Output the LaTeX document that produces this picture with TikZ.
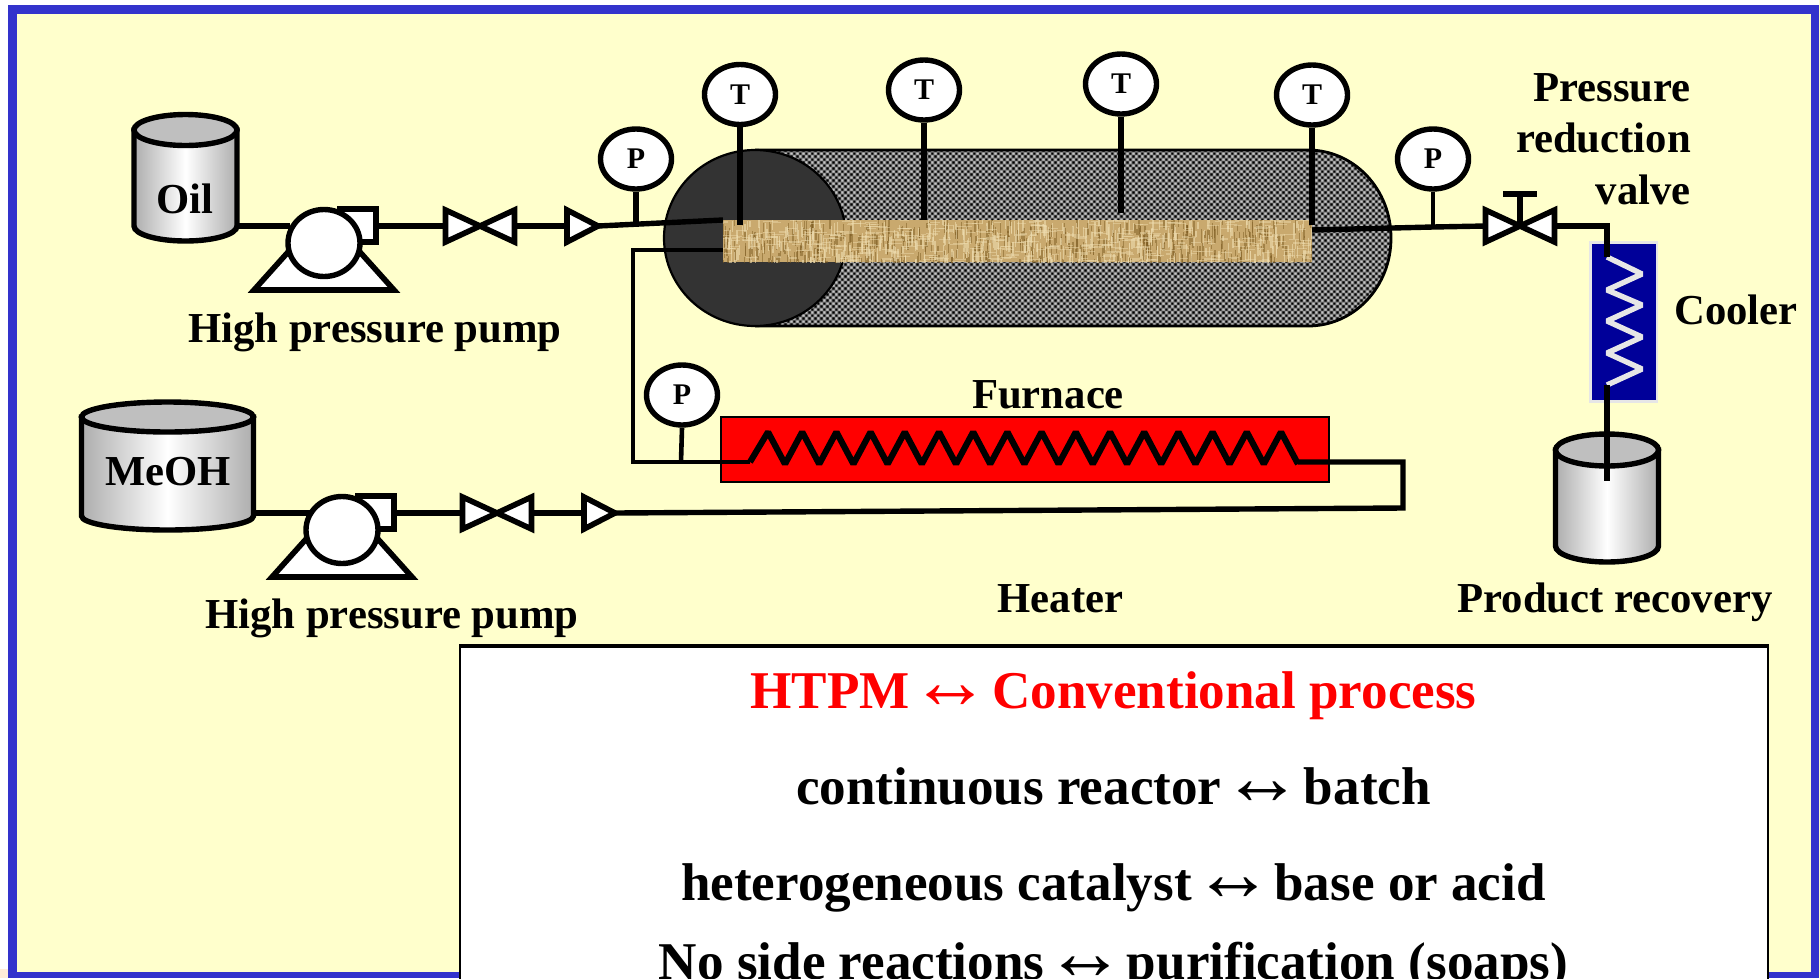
\documentclass[tikz,border=0pt]{standalone}
\usepackage{fontspec}
\setmainfont{Liberation Serif}
\usetikzlibrary{shapes.geometric,patterns}
\definecolor{frameblue}{HTML}{3333CC}
\definecolor{paleyellow}{HTML}{FFFFCC}
\definecolor{coolblue}{HTML}{000099}
\definecolor{coolpale}{HTML}{E6E6E6}
\definecolor{darkshell}{HTML}{333333}
\definecolor{tanbase}{HTML}{C9A96E}
\definecolor{tandark}{HTML}{7D5C22}
\definecolor{tanlight}{HTML}{EFDDB0}
\pgfdeclarepatterninherentlycolored{shellcheck}{\pgfqpoint{0pt}{0pt}}{\pgfqpoint{6.4pt}{6.4pt}}{\pgfqpoint{6.4pt}{6.4pt}}{%
  \pgfsetfillcolor{black!55}\pgfpathrectangle{\pgfqpoint{0pt}{0pt}}{\pgfqpoint{6.4pt}{6.4pt}}\pgfusepath{fill}%
  \pgfsetfillcolor{black}%
  \pgfpathrectangle{\pgfqpoint{0.4pt}{0.4pt}}{\pgfqpoint{2.4pt}{2.4pt}}%
  \pgfpathrectangle{\pgfqpoint{3.6pt}{3.6pt}}{\pgfqpoint{2.4pt}{2.4pt}}\pgfusepath{fill}%
  \pgfsetfillcolor{black!22}%
  \pgfpathrectangle{\pgfqpoint{3.6pt}{0.4pt}}{\pgfqpoint{2.4pt}{2.4pt}}%
  \pgfpathrectangle{\pgfqpoint{0.4pt}{3.6pt}}{\pgfqpoint{2.4pt}{2.4pt}}\pgfusepath{fill}%
}
\newcommand{\twoway}{\hspace{-12pt}{\fontsize{80}{60}\selectfont ↔}\hspace{-12pt}}
\tikzset{
  pipe/.style={draw=black,line width=5.4pt,line join=miter},
  thinstem/.style={draw=black,line width=4.6pt},
  symbolline/.style={draw=black,fill=white,line width=5.6pt,line join=miter},
  gauge/.style={ellipse,draw=black,fill=white,line width=5.4pt,inner sep=0pt,minimum width=71pt,minimum height=60pt,font=\fontsize{30}{32}\selectfont\bfseries},
  lbl/.style={inner sep=0pt,font=\fontsize{42.7}{50}\selectfont\bfseries},
  big/.style={inner sep=0pt,anchor=base,font=\fontsize{53.1}{60}\selectfont\bfseries},
  tankbody/.style={draw=black,line width=5.4pt,left color=black!32,right color=black!32,middle color=white},
  tanktop/.style={draw=black,fill=black!25,line width=5.4pt},
}
% name, x1, x2, top cy, top ry, bottom cy, bottom ry
\newcommand{\tankdraw}[7]{%
  \pgfmathsetmacro{\tcx}{(#2+#3)/2}%
  \pgfmathsetmacro{\trx}{(#3-#2)/2}%
  \pgfmathsetmacro{\tkx}{.5523*\trx}%
  \pgfmathsetmacro{\tky}{.5523*#7}%
  \pgfmathsetmacro{\tbb}{#6+#7}%
  \path[tankbody] (#2,#4) -- (#2,#6)
    .. controls (#2,#6+\tky) and (\tcx-\tkx,\tbb) .. (\tcx,\tbb)
    .. controls (\tcx+\tkx,\tbb) and (#3,#6+\tky) .. (#3,#6) -- (#3,#4) -- cycle;
  \path[tanktop] (\tcx,#4) ellipse [x radius=\trx,y radius=#5];
  \coordinate (#1R) at (#3,#6);
}
% name; pipe level point x,y
\newcommand{\pumpdraw}[3]{%
  \begin{scope}[shift={(#2,#3)}]
    \path[symbolline] (1,-14) -- (-69,64) -- (71,64) -- cycle;
    \path[symbolline] (17,-17) rectangle (53,16);
    \coordinate (#1out) at (53,0);
    \node[ellipse,draw=black,fill=white,line width=5.4pt,inner sep=0pt,minimum width=72pt,minimum height=67pt] (#1) at (1,17) {};
  \end{scope}
}
\newcommand{\valvedraw}[3]{%
  \begin{scope}[shift={(#2,#3)}]
    \path[symbolline] (-34.5,-16) -- (-34.5,16) -- (34.5,-16) -- (34.5,16) -- cycle;
    \coordinate (#1L) at (-34.5,0);
    \coordinate (#1R) at (34.5,0);
    \coordinate (#1C) at (0,0);
  \end{scope}
}
\newcommand{\checkv}[3]{%
  \begin{scope}[shift={(#2,#3)}]
    \path[symbolline] (0,-16) -- (0,16) -- (31,0) -- cycle;
    \coordinate (#1L) at (0,0);
    \coordinate (#1R) at (31,0);
  \end{scope}
}
\begin{document}
\begin{tikzpicture}[x=1pt,y=-1pt]
\useasboundingbox (0,0) rectangle (1820,978);
\clip (0,0) rectangle (1820,978);
\fill[white] (0,0) rectangle (1820,978);
\fill[orange!15] (0,969) rectangle (8,978);
\fill[paleyellow] (1819,0) rectangle (1820,978);
\fill[frameblue] (8,5) rectangle (1819,978);
\fill[paleyellow] (17,14) rectangle (1811,972);

% reactor
\path[pattern=shellcheck] (755,150) -- (1308,150)
  .. controls (1354,150) and (1391,189) .. (1391,238)
  .. controls (1391,287) and (1354,326) .. (1308,326) -- (755,326) -- cycle;
\draw[black,line width=2.8pt] (755,150) -- (1308,150)
  .. controls (1354,150) and (1391,189) .. (1391,238)
  .. controls (1391,287) and (1354,326) .. (1308,326) -- (755,326);
\draw[black,fill=darkshell,line width=2.2pt] (755,238) ellipse [x radius=91,y radius=88];
% catalyst bed
\begin{scope}
  \clip (723,220) rectangle (1312,262);
  \fill[tanbase] (723,220) rectangle (1312,262);
  \pgfmathsetseed{7}
  \foreach \i in {1,...,520}{
    \pgfmathsetmacro{\xa}{723+rnd*589}
    \pgfmathsetmacro{\ya}{218+rnd*44}
    \pgfmathsetmacro{\la}{5+rnd*11}
    \draw[tandark,opacity=.5,line width=1.3pt] (\xa,\ya) -- (\xa,\ya+\la);
  }
  \foreach \i in {1,...,520}{
    \pgfmathsetmacro{\xa}{723+rnd*589}
    \pgfmathsetmacro{\ya}{218+rnd*44}
    \pgfmathsetmacro{\la}{5+rnd*11}
    \draw[tanlight,opacity=.6,line width=1.3pt] (\xa,\ya) -- (\xa,\ya+\la);
  }
  \foreach \i in {1,...,420}{
    \pgfmathsetmacro{\xa}{720+rnd*589}
    \pgfmathsetmacro{\ya}{220+rnd*42}
    \pgfmathsetmacro{\la}{5+rnd*10}
    \draw[tanlight,opacity=.45,line width=1.2pt] (\xa,\ya) -- (\xa+\la,\ya);
  }
\end{scope}

% furnace
\draw[black,fill=red,line width=2.8pt] (721,417) rectangle (1329,482);

% cooler
\draw[coolpale,fill=coolblue,line width=2.4pt] (1590.5,242.5) rectangle (1657,401.5);
\draw[coolpale,line width=5.4pt,line join=bevel] (1607,257) -- (1642,274) -- (1607,290) -- (1642,305) -- (1607,321) -- (1642,337) -- (1607,353) -- (1642,369) -- (1607,385);

% tanks
\tankdraw{oil}{134}{237}{130}{15.5}{226}{15}
\tankdraw{meoh}{81.5}{253.5}{417}{15}{516}{14}
\tankdraw{prod}{1555.5}{1658.5}{450}{16}{546}{16}

% named pipe points
\coordinate (pA) at (723,220);
\coordinate (pB) at (723,250);
\coordinate (pBcorner) at (633,250);
\coordinate (hIn) at (633,462);
\coordinate (hCoil) at (750,462);
\coordinate (hEnd) at (1298,462);
\coordinate (hCorner) at (1403,462);
\coordinate (hDown) at (1403,508);
\coordinate (outA) at (1312,230);
\coordinate (outB) at (1433,227);
\coordinate (cCorner) at (1607,226);
\coordinate (cIn) at (1607,257);
\coordinate (cOut) at (1607,385);
\coordinate (prodIn) at (1607,481);
\coordinate (stemV) at (1520,194);
\coordinate (barL) at (1503,194);
\coordinate (barR) at (1537,194);
\coordinate (tipA) at (740,225);
\coordinate (tipB) at (924,220);
\coordinate (tipC) at (1121,213);
\coordinate (tipD) at (1312,225);
\coordinate (pOne) at (636,222);
\coordinate (pTwo) at (681,462);
\coordinate (pThree) at (1433,227);

% line 1
\coordinate (pumpAin) at (290,226);
\draw[pipe] (oilR |- pumpAin) -- (pumpAin);
\coordinate (pumpBin) at (310,513);
\draw[pipe] (meohR |- pumpBin) -- (pumpBin);
\pumpdraw{pumpA}{323}{226}
\pumpdraw{pumpB}{341}{513}
\draw[pipe] (pumpAout) -- (566,226);
\draw[pipe] (pumpBout) -- (584,513);
\valvedraw{valveA}{480}{226}
\valvedraw{valveB}{497}{513}
\checkv{checkA}{567}{226}
\checkv{checkB}{584}{513}

% feed lines
\draw[pipe] (checkAR) -- (pA);
\draw[pipe,line width=4.6pt,line join=miter] (pB) -- (pBcorner) -- (hIn) -- (hCoil);
\draw[pipe,line width=6.2pt,line join=bevel] (hCoil) \foreach \i in {0,...,15}{ -- ({768+34.2*\i},432) -- ({785+34.2*\i},464) };
\draw[pipe] (hEnd) -- (hCorner) -- (hDown) -- (checkBR);

% gauges
\node[gauge] (gP1) at (636,159) {P};
\node[gauge] (gP2) at (682,395) {P};
\node[gauge] (gP3) at (1433,159) {P};
\node[gauge] (gT1) at (740,94.5) {T};
\node[gauge] (gT2) at (924,90) {T};
\node[gauge] (gT3) at (1121,84) {T};
\node[gauge] (gT4) at (1312,95) {T};
\draw[pipe] (gP1.south) -- (pOne);
\draw[thinstem] (gP2.south) -- (pTwo);
\draw[thinstem] (gP3.south) -- (pThree);
\draw[pipe] (gT1.south) -- (tipA);
\draw[pipe] (gT2.south) -- (tipB);
\draw[pipe] (gT3.south) -- (tipC);
\draw[pipe] (gT4.south) -- (tipD);

% outlet
\valvedraw{valveC}{1520}{226}
\draw[pipe] (valveCC) -- (stemV);
\draw[pipe] (barL) -- (barR);
\draw[pipe] (outA) -- (outB) -- (valveCL);
\draw[pipe] (valveCR) -- (cCorner) -- (cIn);
\draw[pipe] (cOut) -- (prodIn);

% labels
\node[lbl,anchor=base] (tOil) at (185,213) {Oil};
\node[lbl,anchor=base] (tMe) at (168,485) {MeOH};
\node[lbl,anchor=base] (tHp1) at (375,342) {High pressure pump};
\node[lbl,anchor=base] (tHp2) at (392,628) {High pressure pump};
\node[lbl,anchor=base] (tFur) at (1048,408) {Furnace};
\node[lbl,anchor=base] (tHea) at (1060.5,612) {Heater};
\node[lbl,anchor=base] (tPro) at (1615,612) {Product recovery};
\node[lbl,anchor=base] (tCoo) at (1736,324) {Cooler};
\node[lbl,anchor=base east] (tPr1) at (1691,101) {Pressure};
\node[lbl,anchor=base east] (tPr2) at (1691,152) {reduction};
\node[lbl,anchor=base east] (tPr3) at (1691,204) {valve};

% comparison panel
\fill[white] (460,645) rectangle (1768,990);
\draw[black,line width=2pt] (460,990) -- (460,645) -- (1768,645) -- (1768,990);
\draw[black,line width=4pt] (460,645.5) -- (1768,645.5);
\node[big,text=red] (c1) at (1113.5,708) {HTPM \twoway{} Conventional process};
\node[big] (c2) at (1113.5,804) {continuous reactor \twoway{} batch};
\node[big] (c3) at (1113.5,900) {heterogeneous catalyst \twoway{} base or acid};
\node[big] (c4) at (1113.5,979) {No side reactions \twoway{} purification (soaps)};
\end{tikzpicture}
\end{document}
